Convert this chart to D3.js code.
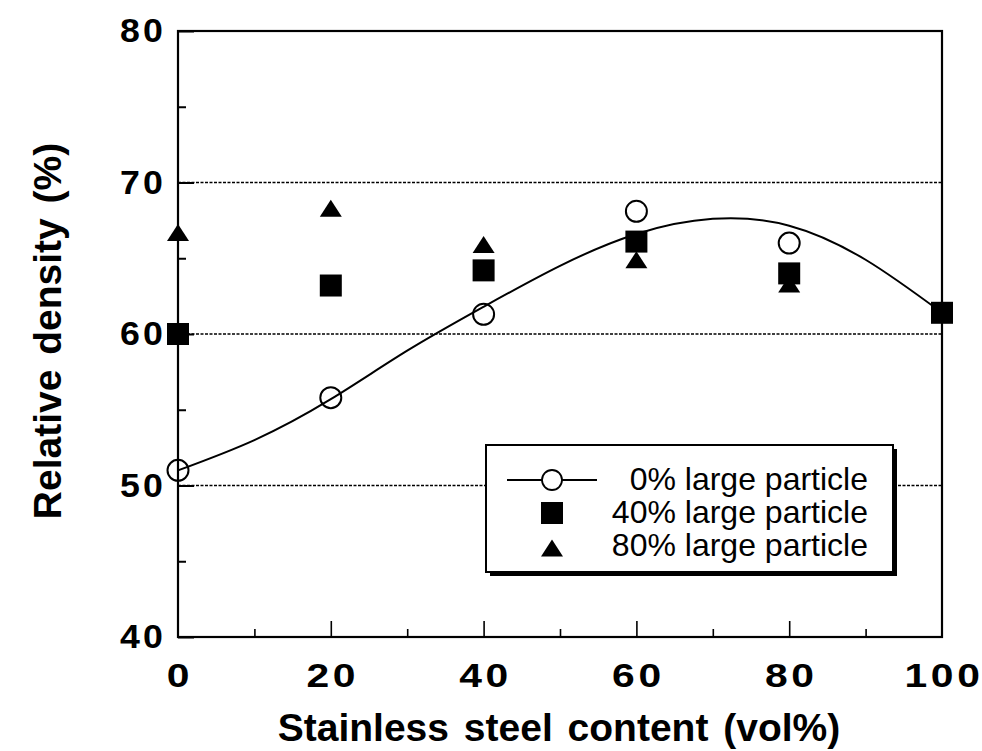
<!DOCTYPE html>
<html lang="en">
<head>
<meta charset="UTF-8">
<title>relative_density</title>
<script src="https://d3js.org/d3.v7.min.js"></script>
<style>
    body { margin: 0; background: #fff; }
    .tick-label {
        font-family: "Liberation Sans", Arial, sans-serif;
        font-weight: bold;
        font-size: 34px;
        letter-spacing: 3px;
    }
    .axis-title {
        font-family: "Liberation Sans", Arial, sans-serif;
        font-weight: bold;
        font-size: 39px;
        word-spacing: 4px;
    }
    .legend-text {
        font-family: "Liberation Sans", Arial, sans-serif;
        font-size: 32px;
    }
</style>
</head>
<body>
<div id="chart"></div>
<script>
// measured points (vol% stainless steel vs relative density %)
const steelContent = [0, 20, 40, 60, 80, 100];
const density0 = [51.0, 55.8, 61.3, 68.1, 66.0, null];   // 0% large particle
const density40 = [60.0, 63.2, 64.2, 66.1, 64.0, 61.4];  // 40% large particle
const density80 = [66.7, 68.3, 65.9, 64.9, 63.3, null];  // 80% large particle

// fitted curve for the 0% series
const fitX = [0, 10, 20, 30, 40, 50, 60, 70, 80, 90, 100];
const fitY = [51.0, 53.0, 55.7, 58.9, 61.8, 64.5, 66.6, 67.6, 67.15, 64.9, 61.4];

const xTicks = [0, 20, 40, 60, 80, 100];
const yTicks = [40, 50, 60, 70, 80];
const gridValues = [50, 60, 70];
const legendLabels = ["0% large particle", "40% large particle", "80% large particle"];

const width = 982, height = 751;
const plotLeft = 178, plotRight = 942, plotTop = 31, plotBottom = 637;

const svg = d3.select("#chart").append("svg")
    .attr("width", width)
    .attr("height", height)
    .style("background", "#fff");

const x = d3.scaleLinear().domain([0, 100]).range([plotLeft, plotRight]);
const y = d3.scaleLinear().domain([40, 80]).range([plotBottom, plotTop]);

// dotted grid
svg.selectAll(".grid")
    .data(gridValues)
    .enter().append("line")
    .attr("x1", plotLeft).attr("x2", plotRight)
    .attr("y1", d => y(d)).attr("y2", d => y(d))
    .attr("stroke", "#000")
    .attr("stroke-width", 1.6)
    .attr("stroke-dasharray", "3,1.5");

// inward ticks
const yAxis = d3.axisRight(y)
    .tickValues(d3.range(40, 80.1, 5))
    .tickSize(0)
    .tickFormat("");
const yTickG = svg.append("g").attr("transform", `translate(${plotLeft},0)`).call(yAxis);
yTickG.select(".domain").remove();
yTickG.selectAll(".tick line")
    .attr("x2", d => d % 10 === 0 ? 16 : 8)
    .attr("stroke", "#000")
    .attr("stroke-width", 2);

const xAxis = d3.axisTop(x)
    .tickValues(d3.range(10, 100, 10))
    .tickSize(0)
    .tickFormat("");
const xTickG = svg.append("g").attr("transform", `translate(0,${plotBottom})`).call(xAxis);
xTickG.select(".domain").remove();
xTickG.selectAll(".tick line")
    .attr("y2", d => d % 20 === 0 ? -16 : -8)
    .attr("stroke", "#000")
    .attr("stroke-width", 1.6);

// frame
svg.append("rect")
    .attr("x", plotLeft).attr("y", plotTop)
    .attr("width", plotRight - plotLeft).attr("height", plotBottom - plotTop)
    .attr("fill", "none")
    .attr("stroke", "#000")
    .attr("stroke-width", 2.2);

// tick labels (the scan's digits are wide, so stretch them a bit)
svg.selectAll(".xlab")
    .data(xTicks)
    .enter().append("text")
    .attr("class", "tick-label")
    .attr("transform", d => `translate(${x(d) + 2},687) scale(1.2,1)`)
    .attr("text-anchor", "middle")
    .text(d => d);

svg.selectAll(".ylab")
    .data(yTicks)
    .enter().append("text")
    .attr("class", "tick-label")
    .attr("transform", d => `translate(166,${y(d) + 11}) scale(1.05,1)`)
    .attr("text-anchor", "end")
    .text(d => d);

// axis titles
svg.append("text")
    .attr("class", "axis-title")
    .attr("x", 559)
    .attr("y", 741)
    .attr("text-anchor", "middle")
    .text("Stainless steel content (vol%)");

svg.append("text")
    .attr("class", "axis-title")
    .attr("transform", "translate(61,331) rotate(-90)")
    .attr("text-anchor", "middle")
    .text("Relative density (%)");

// fitted curve
const line = d3.line()
    .x((d, i) => x(fitX[i]))
    .y(d => y(d))
    .curve(d3.curveNatural);

svg.append("path")
    .datum(fitY)
    .attr("d", line)
    .attr("fill", "none")
    .attr("stroke", "#000")
    .attr("stroke-width", 2);

// markers
const pts = (vals) => steelContent.map((c, i) => ({ c, v: vals[i] })).filter(d => d.v !== null);

svg.selectAll(".circle")
    .data(pts(density0))
    .enter().append("circle")
    .attr("cx", d => x(d.c))
    .attr("cy", d => y(d.v))
    .attr("r", 10.5)
    .attr("fill", "none")
    .attr("stroke", "#000")
    .attr("stroke-width", 2);

const sq = 22;
svg.selectAll(".square")
    .data(pts(density40))
    .enter().append("rect")
    .attr("x", d => x(d.c) - sq / 2)
    .attr("y", d => y(d.v) - sq / 2)
    .attr("width", sq).attr("height", sq)
    .attr("fill", "#000");

const triPath = (cx, cy) => `M${cx},${cy - 8.5}L${cx + 11},${cy + 8.5}L${cx - 11},${cy + 8.5}Z`;
svg.selectAll(".triangle")
    .data(pts(density80))
    .enter().append("path")
    .attr("d", d => triPath(x(d.c), y(d.v)))
    .attr("fill", "#000");

// legend
const lg = { x: 486, y: 445, w: 407, h: 127 };
svg.append("rect")
    .attr("x", lg.x + 4).attr("y", lg.y + 4)
    .attr("width", lg.w).attr("height", lg.h)
    .attr("fill", "#000");
svg.append("rect")
    .attr("x", lg.x).attr("y", lg.y)
    .attr("width", lg.w).attr("height", lg.h)
    .attr("fill", "#fff")
    .attr("stroke", "#000")
    .attr("stroke-width", 2);

const rowY = [480, 513, 546];
const symX = 552;
svg.append("line")
    .attr("x1", 507).attr("x2", 597)
    .attr("y1", rowY[0]).attr("y2", rowY[0])
    .attr("stroke", "#000").attr("stroke-width", 1.8);
svg.append("circle")
    .attr("cx", symX).attr("cy", rowY[0]).attr("r", 10)
    .attr("fill", "#fff").attr("stroke", "#000").attr("stroke-width", 1.8);
svg.append("rect")
    .attr("x", symX - 11).attr("y", rowY[1] - 11)
    .attr("width", 22).attr("height", 22)
    .attr("fill", "#000");
svg.append("path")
    .attr("d", triPath(symX, rowY[2] + 2))
    .attr("fill", "#000");

svg.selectAll(".legend-text")
    .data(legendLabels)
    .enter().append("text")
    .attr("class", "legend-text")
    .attr("x", 868)
    .attr("y", (d, i) => rowY[i] + 10)
    .attr("text-anchor", "end")
    .text(d => d);
</script>
</body>
</html>
